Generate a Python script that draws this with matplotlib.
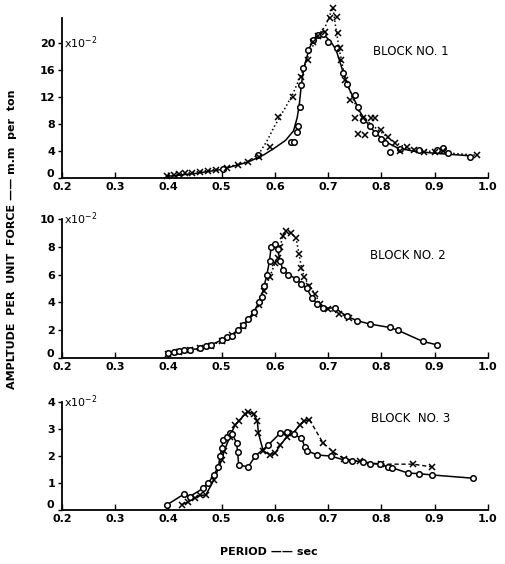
"""
Amplitude per unit force vs period, three blocks
"""

import matplotlib
matplotlib.use("Agg")
import matplotlib.pyplot as plt
from matplotlib.transforms import ScaledTranslation

# ---- block 1 -------------------------------------------------------------
b1_circ_x = [0.502, 0.568, 0.630, 0.636, 0.641, 0.643, 0.647, 0.650, 0.653, 0.662,
             0.672, 0.681, 0.690, 0.700, 0.716, 0.728, 0.735, 0.750, 0.756, 0.765,
             0.778, 0.788, 0.800, 0.807, 0.816, 0.835, 0.870, 0.904, 0.916, 0.925, 0.966]
b1_circ_y = [1.3, 3.4, 5.4, 5.4, 6.9, 7.7, 10.5, 13.8, 16.3, 19.0,
             20.4, 21.2, 21.4, 20.2, 19.2, 15.5, 14.0, 12.3, 10.5, 8.6,
             7.8, 6.7, 5.8, 5.2, 3.9, 4.3, 4.2, 4.2, 4.5, 3.7, 3.2]
b1_x_x = [0.397, 0.410, 0.420, 0.432, 0.445, 0.460, 0.475, 0.490, 0.510, 0.530,
          0.550, 0.570, 0.590, 0.606, 0.634, 0.650, 0.662, 0.672, 0.681, 0.694,
          0.703, 0.709, 0.716, 0.718, 0.722, 0.725, 0.731, 0.741, 0.750, 0.756,
          0.765, 0.769, 0.780, 0.788, 0.800, 0.812, 0.825, 0.835, 0.848, 0.862,
          0.880, 0.900, 0.915, 0.979]
b1_x_y = [0.4, 0.5, 0.6, 0.7, 0.8, 0.9, 1.0, 1.2, 1.5, 1.9,
          2.4, 3.2, 4.6, 9.0, 12.0, 15.0, 17.5, 20.2, 21.0, 21.6,
          23.7, 25.2, 23.9, 21.5, 19.2, 17.5, 14.5, 11.6, 8.9, 6.6,
          8.9, 6.4, 8.9, 8.9, 7.1, 6.1, 5.2, 4.0, 4.6, 4.2,
          3.9, 3.9, 4.1, 3.4]
b1_solid_x = [0.40, 0.45, 0.50, 0.55, 0.58, 0.60, 0.62, 0.635, 0.642, 0.646,
              0.650, 0.655, 0.665, 0.675, 0.685, 0.695, 0.705, 0.715, 0.725, 0.735,
              0.750, 0.760, 0.775, 0.790, 0.810, 0.830, 0.860, 0.900, 0.970]
b1_solid_y = [0.3, 0.7, 1.3, 2.4, 3.5, 4.5, 5.6, 7.0, 9.0, 11.0,
              14.0, 16.5, 19.3, 20.8, 21.4, 21.0, 20.2, 19.0, 16.5, 14.0,
              11.5, 9.8, 8.0, 6.6, 5.3, 4.5, 4.0, 3.7, 3.3]
b1_dot_x = [0.40, 0.45, 0.50, 0.55, 0.57, 0.585, 0.60, 0.62, 0.634, 0.65,
            0.665, 0.68, 0.695, 0.705, 0.709, 0.714, 0.72, 0.73, 0.745, 0.76,
            0.78, 0.80, 0.82, 0.85, 0.90, 0.98]
b1_dot_y = [0.4, 0.9, 1.4, 2.5, 3.6, 5.5, 7.8, 10.5, 12.5, 15.5,
            18.5, 21.0, 22.5, 24.5, 25.2, 22.5, 19.5, 15.5, 12.0, 9.5,
            8.0, 6.8, 5.5, 4.4, 3.9, 3.4]

# ---- block 2 -------------------------------------------------------------
b2_circ_x = [0.40, 0.41, 0.42, 0.43, 0.44, 0.46, 0.47, 0.48, 0.50, 0.51,
             0.52, 0.53, 0.54, 0.55, 0.56, 0.57, 0.575, 0.58, 0.585, 0.59,
             0.593, 0.60, 0.605, 0.61, 0.615, 0.625, 0.64, 0.65, 0.66, 0.67,
             0.68, 0.69, 0.713, 0.735, 0.754, 0.778, 0.816, 0.831, 0.878, 0.905]
b2_circ_y = [0.35, 0.45, 0.5, 0.55, 0.6, 0.7, 0.85, 0.95, 1.3, 1.5,
             1.6, 2.0, 2.4, 2.8, 3.3, 4.0, 4.4, 5.2, 6.0, 7.0,
             8.0, 8.2, 7.8, 7.0, 6.3, 6.0, 5.7, 5.3, 5.0, 4.3,
             3.9, 3.6, 3.6, 3.0, 2.7, 2.45, 2.2, 2.0, 1.2, 0.95]
b2_x_x = [0.40, 0.42, 0.44, 0.46, 0.48, 0.50, 0.52, 0.54, 0.56, 0.57,
          0.58, 0.59, 0.60, 0.605, 0.61, 0.615, 0.62, 0.63, 0.64, 0.645,
          0.65, 0.655, 0.665, 0.675, 0.685, 0.70, 0.72, 0.74]
b2_x_y = [0.3, 0.45, 0.55, 0.7, 0.9, 1.25, 1.65, 2.3, 3.2, 3.8,
          4.8, 5.8, 6.8, 7.2, 8.0, 8.8, 9.1, 9.0, 8.6, 7.5,
          6.5, 5.8, 5.2, 4.6, 3.9, 3.5, 3.2, 2.9]

# ---- block 3 -------------------------------------------------------------
b3_circ_x = [0.397, 0.43, 0.44, 0.465, 0.475, 0.485, 0.494, 0.497, 0.50, 0.503,
             0.51, 0.515, 0.52, 0.528, 0.53, 0.532, 0.55, 0.563, 0.587, 0.61,
             0.622, 0.635, 0.65, 0.656, 0.66, 0.68, 0.705, 0.731, 0.745, 0.765,
             0.778, 0.797, 0.812, 0.82, 0.85, 0.87, 0.895, 0.972]
b3_circ_y = [0.19, 0.6, 0.5, 0.8, 1.0, 1.3, 1.6, 2.0, 2.3, 2.6,
             2.7, 2.85, 2.8, 2.5, 2.15, 1.67, 1.6, 2.0, 2.4, 2.85,
             2.9, 2.8, 2.67, 2.35, 2.2, 2.04, 2.0, 1.85, 1.83, 1.78,
             1.72, 1.7, 1.6, 1.57, 1.37, 1.35, 1.3, 1.18]
b3_x_x = [0.425, 0.437, 0.45, 0.46, 0.47, 0.485, 0.50, 0.505, 0.515, 0.525,
          0.532, 0.544, 0.55, 0.56, 0.567, 0.569, 0.578, 0.59, 0.60, 0.61,
          0.622, 0.634, 0.647, 0.655, 0.665, 0.69, 0.71, 0.73, 0.76, 0.80,
          0.86, 0.895]
b3_x_y = [0.2, 0.3, 0.45, 0.55, 0.55, 1.1, 1.85, 2.2, 2.7, 3.15,
          3.3, 3.55, 3.65, 3.55, 3.3, 2.85, 2.2, 2.05, 2.1, 2.4,
          2.7, 2.85, 3.15, 3.3, 3.35, 2.5, 2.15, 1.9, 1.8, 1.7,
          1.7, 1.6]
B3_SPLIT = 24  # index of second peak, dashed after it

LABEL_FONT = dict(family="DejaVu Sans", weight="bold", size=8)


def style_axes(fig, ax, ymax, yticks, top_label, block):
    ax.set_xlim(0.2, 1.0)
    ax.set_ylim(0, ymax)
    ax.spines["top"].set_visible(False)
    ax.spines["right"].set_visible(False)
    ax.spines["left"].set_linewidth(1.3)
    ax.spines["bottom"].set_linewidth(1.3)
    ax.set_xticks([0.2, 0.3, 0.4, 0.5, 0.6, 0.7, 0.8, 0.9, 1.0])
    ax.set_xticklabels(["0.2", "0.3", "0.4", "0.5", "0.6", "0.7", "0.8", "0.9", "1.0"],
                       **LABEL_FONT)
    ax.set_yticks(yticks)
    ax.set_yticklabels([str(t) for t in yticks], **LABEL_FONT)
    ax.tick_params(axis="x", direction="in", length=4, width=1, pad=3)
    ax.tick_params(axis="y", direction="out", length=3, width=1, pad=2)
    # lift the "0" on y a little so it sits above the "0.2"
    zero = ax.get_yticklabels()[0]
    zero.set_transform(zero.get_transform() +
                       ScaledTranslation(-1 / 72, 4 / 72, fig.dpi_scale_trans))
    ax.text(0.204, top_label, "x10$^{-2}$", ha="left", va="center",
            fontsize=8, family="DejaVu Sans")
    ax.text(block[0], block[1], block[2], ha="left", va="center",
            fontsize=8.5, family="DejaVu Sans")


def main():
    fig = plt.figure(figsize=(5.06, 5.64), dpi=100)
    left, width = 0.1225, 0.8415
    ax1 = fig.add_axes([left, 0.684, width, 0.284])
    ax2 = fig.add_axes([left, 0.365, width, 0.247])
    ax3 = fig.add_axes([left, 0.0957, width, 0.1913])

    mk = dict(markersize=4, markeredgewidth=1.1, color="black")

    # block 1
    ax1.plot(b1_solid_x, b1_solid_y, "-", color="black", lw=1.1)
    ax1.plot(b1_dot_x, b1_dot_y, ":", color="black", lw=1.1, clip_on=False)
    ax1.plot(b1_circ_x, b1_circ_y, "o", markerfacecolor="white", linestyle="none", **mk)
    ax1.plot(b1_x_x, b1_x_y, "x", linestyle="none", clip_on=False, **mk)
    style_axes(fig, ax1, 23.7, [0, 4, 8, 12, 16, 20], 20, (0.784, 18.7, "BLOCK NO. 1"))

    # block 2
    ax2.plot(b2_x_x, b2_x_y, ":", color="black", lw=1.1)
    ax2.plot(b2_x_x, b2_x_y, "x", linestyle="none", **mk)
    ax2.plot(b2_circ_x, b2_circ_y, "-", color="black", lw=1.1)
    ax2.plot(b2_circ_x, b2_circ_y, "o", markerfacecolor="white", linestyle="none", **mk)
    style_axes(fig, ax2, 10, [0, 2, 4, 6, 8, 10], 10, (0.778, 7.4, "BLOCK NO. 2"))

    # block 3
    ax3.plot(b3_x_x[:B3_SPLIT + 1], b3_x_y[:B3_SPLIT + 1], "-", color="black", lw=1.1)
    ax3.plot(b3_x_x[B3_SPLIT:], b3_x_y[B3_SPLIT:], "--", color="black", lw=1.0,
             dashes=(3, 2))
    ax3.plot(b3_x_x, b3_x_y, "x", linestyle="none", **mk)
    ax3.plot(b3_circ_x, b3_circ_y, "-", color="black", lw=1.1)
    ax3.plot(b3_circ_x, b3_circ_y, "o", markerfacecolor="white", linestyle="none", **mk)
    style_axes(fig, ax3, 4, [0, 1, 2, 3, 4], 4, (0.78, 3.4, "BLOCK  NO. 3"))

    fig.text(0.024, 0.576, "AMPLTUDE  PER  UNIT  FORCE —— m.m  per  ton",
             rotation=90, ha="center", va="center", **LABEL_FONT)
    fig.text(0.532, 0.021, "PERIOD —— sec", ha="center", va="center", **LABEL_FONT)

    fig.savefig("out.png", dpi=100)
    return 0


if __name__ == "__main__":
    main()
